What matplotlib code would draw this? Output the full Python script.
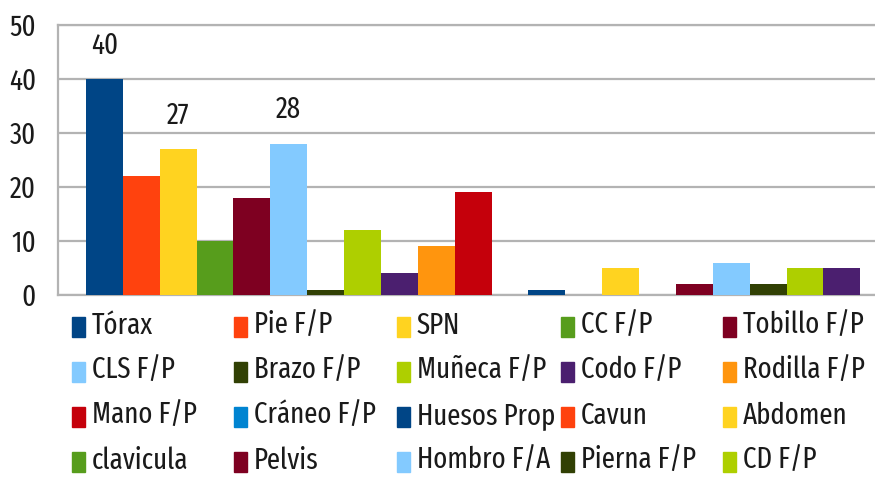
import matplotlib
matplotlib.use("Agg")
import matplotlib.pyplot as plt
from matplotlib.patches import Rectangle

plt.rcParams['font.family'] = ['Fira Sans Extra Condensed', 'DejaVu Sans']

# data
labels = ["Tórax", "Pie F/P", "SPN", "CC F/P", "Tobillo F/P",
          "CLS F/P", "Brazo F/P", "Muñeca F/P", "Codo F/P", "Rodilla F/P",
          "Mano F/P", "Cráneo F/P", "Huesos Prop", "Cavun", "Abdomen",
          "clavicula", "Pelvis", "Hombro F/A", "Pierna F/P", "CD F/P", ""]
values = [40, 22, 27, 10, 18, 28, 1, 12, 4, 9, 19, 0, 1, 0, 5, 0, 2, 6, 2, 5, 5]
shown = {0: "40", 2: "27", 5: "28"}

palette = ["#004586", "#ff420e", "#ffd320", "#579d1c", "#7e0021", "#83caff",
           "#314004", "#aecf00", "#4b1f6f", "#ff950e", "#c5000b", "#0084d1"]
colors = [palette[i % len(palette)] for i in range(len(values))]

W, H = 875, 480
FS = 21
fig = plt.figure(figsize=(W / 100, H / 100), dpi=100)
ax = fig.add_axes([58 / W, 1 - 295 / H, 1 - 58 / W, 270 / H])

xs = list(range(len(values)))
ax.bar(xs, values, width=1.0, color=colors, zorder=3)
for i, txt in shown.items():
    ax.annotate(txt, (xs[i], values[i]), xytext=(0, 14), textcoords="offset points",
                ha="center", va="bottom", fontsize=FS, color="#1a1a1a")

ax.set_xlim(-1.26, 20.9)
ax.set_ylim(0, 50)
ax.set_yticks(range(0, 51, 10))
ax.set_xticks([])
ax.tick_params(axis="y", length=0, pad=16, labelsize=FS, labelcolor="#1a1a1a")
ax.yaxis.grid(True, color="#b3b3b3", linewidth=1.6, zorder=0)
for s in ["top", "left", "bottom"]:
    ax.spines[s].set_color("#b3b3b3")
    ax.spines[s].set_linewidth(1.6)
ax.spines["right"].set_visible(False)

# legend, row by row like the original
col_x = [72, 234, 397, 561, 723]
row_y = [327, 372, 417, 462]
for k in range(20):
    r, c = divmod(k, 5)
    x0, yc = col_x[c], row_y[r]
    fig.add_artist(Rectangle((x0 / W, 1 - (yc + 10) / H), 13 / W, 20 / H,
                             transform=fig.transFigure, color=colors[k]))
    fig.text((x0 + 20) / W, 1 - (yc - 1) / H, labels[k], ha="left", va="center",
             fontsize=FS, color="#1a1a1a")

fig.savefig("out.png", dpi=100)
